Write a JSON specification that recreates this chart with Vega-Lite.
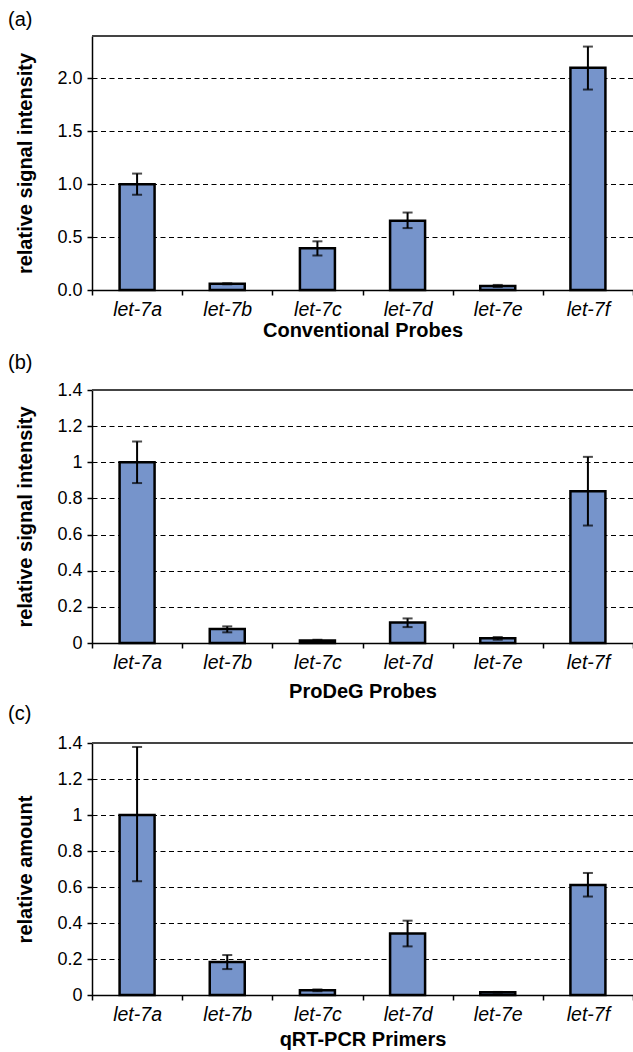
{
  "$schema": "https://vega.github.io/schema/vega-lite/v6.json",
  "background": "white",
  "padding": {"left": 8, "top": 10, "right": 0, "bottom": 0},
  "spacing": 100,
  "bounds": "flush",
  "config": {
    "font": "Liberation Sans",
    "view": {"stroke": null},
    "axis": {
      "domainColor": "#000", "domainWidth": 1.5, "tickColor": "#000", "tickWidth": 1.5,
      "labelColor": "#000", "titleColor": "#000", "labelFont": "Liberation Sans", "titleFont": "Liberation Sans",
      "labelFontSize": 18, "titleFontSize": 20, "titleFontWeight": "bold", "tickSize": 5, "labelOverlap": false
    },
    "axisX": {"grid": false, "tickBand": "extent", "labelAngle": 0, "labelFontStyle": "italic", "labelFontSize": 19.5, "labelPadding": 5},
    "axisY": {"gridColor": "#000", "gridDash": [5, 3.5], "gridWidth": 1, "labelPadding": 5, "titlePadding": 21},
    "title": {"font": "Liberation Sans", "fontSize": 20, "fontWeight": "normal", "color": "#000", "anchor": "start", "frame": "group", "dx": -84}
  },
  "datasets": {
    "d": [
      {"panel": "a", "probe": "let-7a", "value": 1.0, "low": 0.9, "high": 1.1},
      {"panel": "a", "probe": "let-7b", "value": 0.059, "low": 0.054, "high": 0.064},
      {"panel": "a", "probe": "let-7c", "value": 0.394, "low": 0.326, "high": 0.46},
      {"panel": "a", "probe": "let-7d", "value": 0.654, "low": 0.585, "high": 0.732},
      {"panel": "a", "probe": "let-7e", "value": 0.038, "low": 0.028, "high": 0.048},
      {"panel": "a", "probe": "let-7f", "value": 2.1, "low": 1.894, "high": 2.3},
      {"panel": "b", "probe": "let-7a", "value": 1.0, "low": 0.885, "high": 1.115},
      {"panel": "b", "probe": "let-7b", "value": 0.077, "low": 0.059, "high": 0.092},
      {"panel": "b", "probe": "let-7c", "value": 0.014, "low": 0.01, "high": 0.018},
      {"panel": "b", "probe": "let-7d", "value": 0.113, "low": 0.088, "high": 0.136},
      {"panel": "b", "probe": "let-7e", "value": 0.026, "low": 0.018, "high": 0.033},
      {"panel": "b", "probe": "let-7f", "value": 0.84, "low": 0.65, "high": 1.03},
      {"panel": "c", "probe": "let-7a", "value": 1.0, "low": 0.632, "high": 1.378},
      {"panel": "c", "probe": "let-7b", "value": 0.183, "low": 0.144, "high": 0.222},
      {"panel": "c", "probe": "let-7c", "value": 0.026, "low": 0.021, "high": 0.031},
      {"panel": "c", "probe": "let-7d", "value": 0.341, "low": 0.27, "high": 0.413},
      {"panel": "c", "probe": "let-7e", "value": 0.015, "low": 0.013, "high": 0.017},
      {"panel": "c", "probe": "let-7f", "value": 0.611, "low": 0.547, "high": 0.678}
    ]
  },
  "vconcat": [
    {
      "title": {"text": "(a)", "offset": 5},
      "width": 541, "height": 254,
      "data": {"name": "d"},
      "transform": [{"filter": "datum.panel == 'a'"}],
      "layer": [
        {"mark": {"type": "bar", "size": 35, "fill": "#7694CB", "stroke": "#000", "strokeWidth": 2.5},
         "encoding": {
           "x": {"field": "probe", "type": "nominal", "sort": null, "title": "Conventional Probes",
                 "scale": {"paddingInner": 0, "paddingOuter": 0}, "axis": {"titlePadding": 2}},
           "y": {"field": "value", "type": "quantitative", "title": "relative signal intensity",
           "scale": {"domain": [0, 2.4], "nice": false, "zero": true},
           "axis": {"values": [0, 0.5, 1, 1.5, 2], "tickCount": 5, "format": ".1f"}}}},
        {"mark": {"type": "rule", "strokeWidth": 2, "color": "#000"},
         "encoding": {
           "x": {"field": "probe", "type": "nominal", "sort": null, "title": "Conventional Probes"},
           "y": {"field": "low", "type": "quantitative", "title": "relative signal intensity"}, "y2": {"field": "high"}}},
        {"mark": {"type": "tick", "size": 10, "thickness": 2, "color": "#000"},
         "encoding": {
           "x": {"field": "probe", "type": "nominal", "sort": null, "title": "Conventional Probes"},
           "y": {"field": "low", "type": "quantitative", "title": "relative signal intensity"}}},
        {"mark": {"type": "tick", "size": 10, "thickness": 2, "color": "#000"},
         "encoding": {
           "x": {"field": "probe", "type": "nominal", "sort": null, "title": "Conventional Probes"},
           "y": {"field": "high", "type": "quantitative", "title": "relative signal intensity"}}},
        {"mark": {"type": "rule", "strokeWidth": 1.5, "color": "#444"},
         "encoding": {"y": {"datum": 2.4, "title": "relative signal intensity"}}}
      ]
    },
    {
      "title": {"text": "(b)", "offset": 8},
      "width": 541, "height": 253,
      "data": {"name": "d"},
      "transform": [{"filter": "datum.panel == 'b'"}],
      "layer": [
        {"mark": {"type": "bar", "size": 35, "fill": "#7694CB", "stroke": "#000", "strokeWidth": 2.5},
         "encoding": {
           "x": {"field": "probe", "type": "nominal", "sort": null, "title": "ProDeG Probes",
                 "scale": {"paddingInner": 0, "paddingOuter": 0}, "axis": {"titlePadding": 10}},
           "y": {"field": "value", "type": "quantitative", "title": "relative signal intensity",
           "scale": {"domain": [0, 1.4], "nice": false, "zero": true},
           "axis": {"values": [0, 0.2, 0.4, 0.6, 0.8, 1, 1.2, 1.4], "tickCount": 8, "format": "~g"}}}},
        {"mark": {"type": "rule", "strokeWidth": 2, "color": "#000"},
         "encoding": {
           "x": {"field": "probe", "type": "nominal", "sort": null, "title": "ProDeG Probes"},
           "y": {"field": "low", "type": "quantitative", "title": "relative signal intensity"}, "y2": {"field": "high"}}},
        {"mark": {"type": "tick", "size": 10, "thickness": 2, "color": "#000"},
         "encoding": {
           "x": {"field": "probe", "type": "nominal", "sort": null, "title": "ProDeG Probes"},
           "y": {"field": "low", "type": "quantitative", "title": "relative signal intensity"}}},
        {"mark": {"type": "tick", "size": 10, "thickness": 2, "color": "#000"},
         "encoding": {
           "x": {"field": "probe", "type": "nominal", "sort": null, "title": "ProDeG Probes"},
           "y": {"field": "high", "type": "quantitative", "title": "relative signal intensity"}}},
        {"mark": {"type": "rule", "strokeWidth": 1.5, "color": "#444"},
         "encoding": {"y": {"datum": 1.4, "title": "relative signal intensity"}}}
      ]
    },
    {
      "title": {"text": "(c)", "offset": 10},
      "width": 541, "height": 252,
      "data": {"name": "d"},
      "transform": [{"filter": "datum.panel == 'c'"}],
      "layer": [
        {"mark": {"type": "bar", "size": 35, "fill": "#7694CB", "stroke": "#000", "strokeWidth": 2.5},
         "encoding": {
           "x": {"field": "probe", "type": "nominal", "sort": null, "title": "qRT-PCR Primers",
                 "scale": {"paddingInner": 0, "paddingOuter": 0}, "axis": {"titlePadding": 6}},
           "y": {"field": "value", "type": "quantitative", "title": "relative amount",
           "scale": {"domain": [0, 1.4], "nice": false, "zero": true},
           "axis": {"values": [0, 0.2, 0.4, 0.6, 0.8, 1, 1.2, 1.4], "tickCount": 8, "format": "~g"}}}},
        {"mark": {"type": "rule", "strokeWidth": 2, "color": "#000"},
         "encoding": {
           "x": {"field": "probe", "type": "nominal", "sort": null, "title": "qRT-PCR Primers"},
           "y": {"field": "low", "type": "quantitative", "title": "relative amount"}, "y2": {"field": "high"}}},
        {"mark": {"type": "tick", "size": 10, "thickness": 2, "color": "#000"},
         "encoding": {
           "x": {"field": "probe", "type": "nominal", "sort": null, "title": "qRT-PCR Primers"},
           "y": {"field": "low", "type": "quantitative", "title": "relative amount"}}},
        {"mark": {"type": "tick", "size": 10, "thickness": 2, "color": "#000"},
         "encoding": {
           "x": {"field": "probe", "type": "nominal", "sort": null, "title": "qRT-PCR Primers"},
           "y": {"field": "high", "type": "quantitative", "title": "relative amount"}}},
        {"mark": {"type": "rule", "strokeWidth": 1.5, "color": "#444"},
         "encoding": {"y": {"datum": 1.4, "title": "relative amount"}}}
      ]
    }
  ]
}
